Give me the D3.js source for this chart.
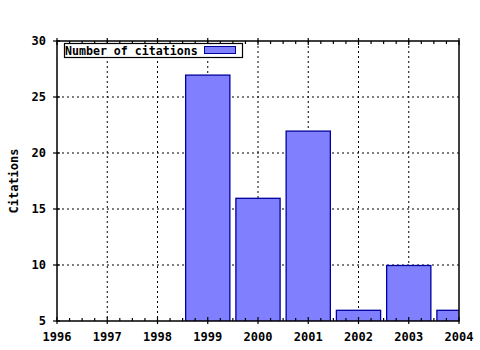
<!DOCTYPE html>
<html lang="en">
<head>
<meta charset="utf-8">
<title>Citations</title>
<script src="https://d3js.org/d3.v7.min.js"></script>
<style>
  body { margin: 0; background: #fff; }
  text { font-family: "DejaVu Sans Mono", monospace; font-weight: bold; }
</style>
</head>
<body>
<script>
// data
const years = [1999, 2000, 2001, 2002, 2003, 2004];
const citations = [27, 16, 22, 6, 10, 6];
const xTicks = [1996, 1997, 1998, 1999, 2000, 2001, 2002, 2003, 2004];
const yTicks = [5, 10, 15, 20, 25, 30];
const seriesName = "Number of citations";

const width = 480, height = 350;
const margin = { top: 41, right: 21, bottom: 29, left: 57 };

const svg = d3.select("body").append("svg")
    .attr("width", width)
    .attr("height", height);

const x = d3.scaleLinear().domain([1996, 2004]).range([margin.left, width - margin.right]);
const y = d3.scaleLinear().domain([5, 30]).range([height - margin.bottom, margin.top]);

// clip so the last bar is cut at the frame
svg.append("clipPath").attr("id", "plot")
    .append("rect")
    .attr("x", margin.left).attr("y", margin.top)
    .attr("width", x(2004) - x(1996)).attr("height", y(5) - y(30));

// dotted grid
svg.append("g").selectAll("line")
    .data(xTicks.slice(1, -1))
    .join("line")
    .attr("x1", d => x(d)).attr("x2", d => x(d))
    .attr("y1", y(30)).attr("y2", y(5))
    .attr("stroke", "#000").attr("stroke-dasharray", "2,3");
svg.append("g").selectAll("line")
    .data(yTicks.slice(1, -1))
    .join("line")
    .attr("x1", x(1996)).attr("x2", x(2004))
    .attr("y1", d => y(d)).attr("y2", d => y(d))
    .attr("stroke", "#000").attr("stroke-dasharray", "2,3");

// bars
const barW = (x(1997) - x(1996)) * 0.9;
svg.append("g").attr("clip-path", "url(#plot)")
    .selectAll("rect")
    .data(years)
    .join("rect")
    .attr("x", (d) => x(d) - barW / 2 + 0.5)
    .attr("y", (d, i) => y(citations[i]) + 0.5)
    .attr("width", barW - 1)
    .attr("height", (d, i) => y(5) - y(citations[i]))
    .attr("fill", "#8080ff")
    .attr("stroke", "#00009c")
    .attr("stroke-width", 1.3);

// frame
svg.append("rect")
    .attr("x", x(1996)).attr("y", y(30))
    .attr("width", x(2004) - x(1996)).attr("height", y(5) - y(30))
    .attr("fill", "none").attr("stroke", "#000").attr("stroke-width", 1.5);

// minor ticks on bottom and top
const minor = d3.range(1996, 2004.01, 0.25);
const tk = svg.append("g").attr("stroke", "#000").attr("stroke-width", 1.2);
minor.forEach(v => {
  const major = Number.isInteger(v);
  tk.append("line").attr("x1", x(v)).attr("x2", x(v))
    .attr("y1", y(5) + (major ? 3 : 0)).attr("y2", y(5) - (major ? 4 : 3));
  tk.append("line").attr("x1", x(v)).attr("x2", x(v))
    .attr("y1", y(30) - (major ? 3 : 0)).attr("y2", y(30) + (major ? 4 : 3));
});
yTicks.forEach(v => {
  tk.append("line").attr("x1", x(1996) - 4).attr("x2", x(1996) + 3)
    .attr("y1", y(v)).attr("y2", y(v));
});

// tick labels
svg.append("g").selectAll("text")
    .data(xTicks)
    .join("text")
    .attr("x", d => x(d))
    .attr("y", y(5) + 20)
    .attr("text-anchor", "middle")
    .attr("font-size", 12)
    .text(d => d);
svg.append("g").selectAll("text")
    .data(yTicks)
    .join("text")
    .attr("x", x(1996) - 11)
    .attr("y", d => y(d) + 4)
    .attr("text-anchor", "end")
    .attr("font-size", 12)
    .text(d => d);

// y label
svg.append("text")
    .attr("transform", `translate(18,${(y(5) + y(30)) / 2}) rotate(-90)`)
    .attr("text-anchor", "middle")
    .attr("font-size", 12)
    .text("Citations");

// legend
const lg = svg.append("g");
lg.append("rect")
    .attr("x", 64.5).attr("y", 43.5).attr("width", 178).attr("height", 14)
    .attr("fill", "#fff").attr("stroke", "#000").attr("stroke-width", 1.2);
lg.append("text")
    .attr("x", 65).attr("y", 54.5)
    .attr("font-size", 11.6)
    .text(seriesName);
lg.append("rect")
    .attr("x", 204.5).attr("y", 46.5).attr("width", 31).attr("height", 7)
    .attr("fill", "#8080ff").attr("stroke", "#00009c");
</script>
</body>
</html>
